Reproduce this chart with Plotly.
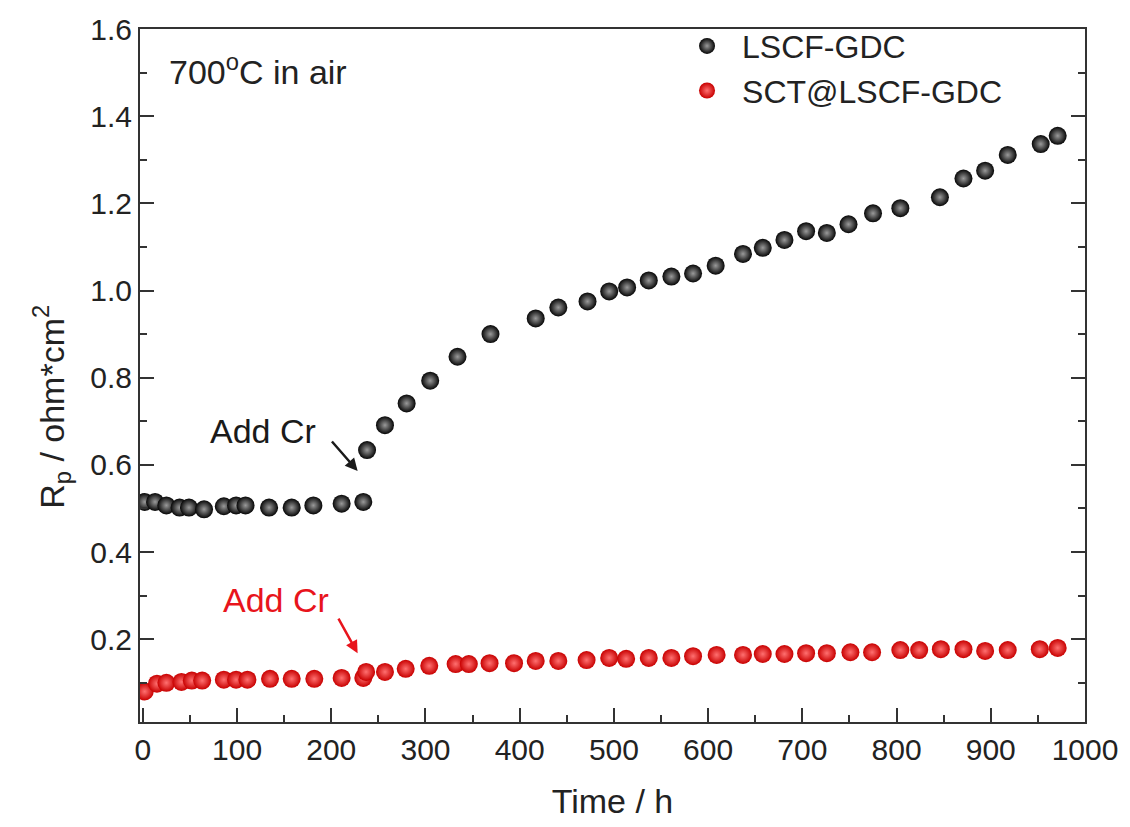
import plotly.graph_objects as go

# LSCF-GDC (black)
t_lscf = [2, 13, 25, 39, 49, 65, 86, 99, 109, 134, 158, 181, 211, 234,
          238, 257, 280, 305, 334, 369, 417, 441, 472, 495, 514, 537, 561,
          584, 608, 637, 658, 681, 704, 726, 749, 775, 804, 846, 871, 894,
          918, 953, 971]
rp_lscf = [0.515, 0.515, 0.507, 0.502, 0.502, 0.498, 0.505, 0.507, 0.507,
           0.502, 0.502, 0.507, 0.511, 0.515,
           0.634, 0.691, 0.741, 0.793, 0.848, 0.900, 0.936, 0.961, 0.975,
           0.998, 1.007, 1.023, 1.032, 1.039, 1.057, 1.084, 1.098, 1.116,
           1.136, 1.132, 1.152, 1.177, 1.189, 1.214, 1.257, 1.275, 1.311,
           1.336, 1.355]

# SCT@LSCF-GDC (red)
t_sct = [2, 15, 25, 41, 52, 63, 86, 99, 111, 135, 158, 182, 211, 234,
         237, 257, 279, 304, 332, 346, 368, 394, 417, 441, 471, 495, 513,
         537, 561, 584, 609, 637, 658, 681, 704, 726, 751, 774, 804, 824,
         847, 871, 894, 918, 952, 971]
rp_sct = [0.080, 0.098, 0.100, 0.102, 0.105, 0.105, 0.107, 0.107, 0.107,
          0.109, 0.109, 0.109, 0.111, 0.111,
          0.125, 0.125, 0.132, 0.139, 0.143, 0.143, 0.145, 0.145, 0.150,
          0.150, 0.152, 0.157, 0.155, 0.157, 0.157, 0.161, 0.164, 0.164,
          0.166, 0.166, 0.168, 0.168, 0.170, 0.170, 0.175, 0.175, 0.177,
          0.177, 0.173, 0.175, 0.177, 0.180]

x_ticks = [0, 100, 200, 300, 400, 500, 600, 700, 800, 900, 1000]
y_ticks = [0.2, 0.4, 0.6, 0.8, 1.0, 1.2, 1.4, 1.6]

FONT = "Liberation Sans, Arial, sans-serif"
AX = "#333333"
TXT = "#222222"

fig = go.Figure()
fig.add_trace(go.Scatter(
    x=t_lscf, y=rp_lscf, mode="markers", name="LSCF-GDC",
    marker=dict(size=18, color="#050505", line=dict(width=0),
                gradient=dict(type="radial", color="#9a9a9a")),
))
fig.add_trace(go.Scatter(
    x=t_sct, y=rp_sct, mode="markers", name="SCT@LSCF-GDC",
    marker=dict(size=18, color="#c80000", line=dict(width=0),
                gradient=dict(type="radial", color="#ff7070")),
))

axis_common = dict(
    showline=True, linecolor=AX, linewidth=2, ticks="inside",
    ticklen=14, tickwidth=2, tickcolor=AX, showgrid=False, zeroline=False,
    tickfont=dict(family=FONT, size=30, color=TXT),
)

fig.update_xaxes(
    range=[-3, 1000], tickvals=x_ticks, mirror=True,
    minor=dict(ticks="inside", ticklen=7, tickwidth=2, tickcolor=AX, dtick=50, tick0=0),
    title=dict(text="Time / h", font=dict(family=FONT, size=34, color=TXT), standoff=24),
    **axis_common,
)
fig.update_yaxes(
    range=[0.01, 1.6], tickvals=y_ticks, tickformat=".1f", mirror="ticks",
    minor=dict(ticks="inside", ticklen=7, tickwidth=2, tickcolor=AX, dtick=0.1, tick0=0),
    **axis_common,
)

# y-axis title (rotated annotation, placed in the left margin)
fig.add_annotation(x=-0.094, y=0.455, xref="paper", yref="paper",
                   text="R<sub>p</sub> / ohm*cm<sup>2</sup>", textangle=-90,
                   showarrow=False, xanchor="center", yanchor="middle",
                   font=dict(family=FONT, size=34, color=TXT))

fig.add_annotation(x=26, y=1.507, xref="x", yref="y", text="700<sup>o</sup>C in air",
                   showarrow=False, xanchor="left",
                   font=dict(family=FONT, size=34, color=TXT))
fig.add_annotation(x=128, y=0.677, xref="x", yref="y", text="Add Cr",
                   showarrow=False, font=dict(family=FONT, size=34, color="#1a1a1a"))
fig.add_annotation(x=228, y=0.586, xref="x", yref="y", text="",
                   showarrow=True, ax=-27, ay=-31, arrowhead=2, arrowsize=1,
                   arrowwidth=2.5, arrowcolor="#1a1a1a")
fig.add_annotation(x=141, y=0.291, xref="x", yref="y", text="Add Cr",
                   showarrow=False, font=dict(family=FONT, size=34, color="#e8141c"))
fig.add_annotation(x=228, y=0.168, xref="x", yref="y", text="",
                   showarrow=True, ax=-20, ay=-36, arrowhead=2, arrowsize=1,
                   arrowwidth=2.5, arrowcolor="#e8141c")

fig.update_layout(
    width=1130, height=827,
    margin=dict(l=140, r=37, t=22, b=105),
    paper_bgcolor="white", plot_bgcolor="white",
    showlegend=True,
    legend=dict(x=0.563, y=1.015, xanchor="left", yanchor="top",
                bgcolor="rgba(0,0,0,0)", borderwidth=0,
                font=dict(family=FONT, size=32, color=TXT),
                tracegroupgap=0, itemwidth=60),
)

fig.write_html("out.html")
